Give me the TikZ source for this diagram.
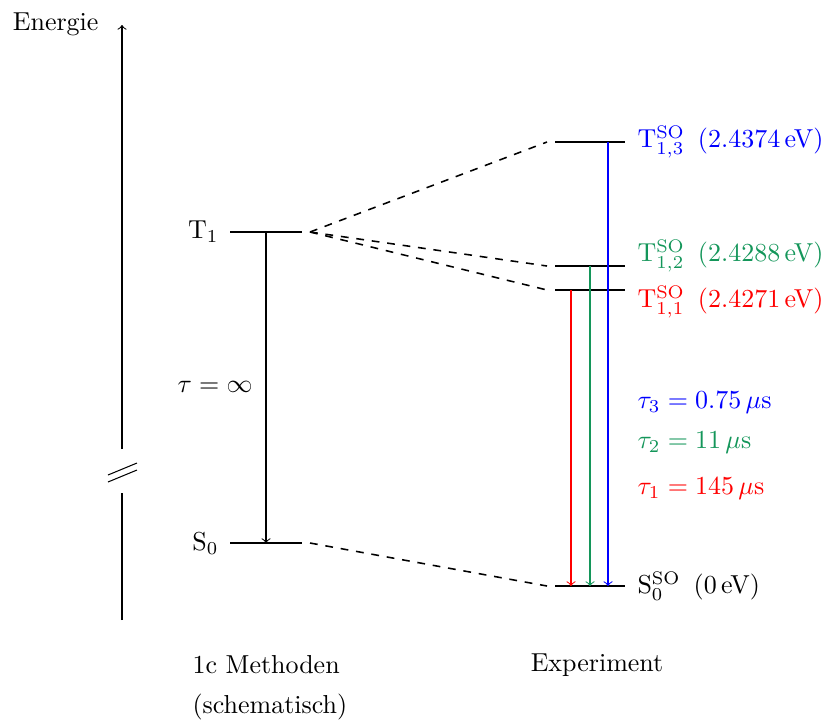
\documentclass[tikz,border=0pt]{standalone}
\usetikzlibrary{calc}
\definecolor{myred}{RGB}{255,0,0}
\definecolor{mygreen}{RGB}{20,150,90}
\definecolor{myblue}{RGB}{0,0,255}
\begin{document}
\begin{tikzpicture}[x=0.385pt,y=-0.385pt,
  level/.style={semithick},
  dashline/.style={dashed,semithick},
  lbl/.style={inner sep=0pt},
  trans/.style={->}]
\useasboundingbox (0,0) rectangle (825,720);
% axis
\coordinate (axtop) at (122,25);
\coordinate (axbrkhi) at (122,449);
\coordinate (axbrklo) at (122,493);
\coordinate (axbot) at (122,620);
\draw[->] (axbrkhi) -- (axtop);
\draw (axbot) -- (axbrklo);
\coordinate (b1a) at (108,475); \coordinate (b1b) at (137,463);
\coordinate (b2a) at (108,482); \coordinate (b2b) at (137,470);
\draw (b1a) -- (b1b);
\draw (b2a) -- (b2b);
\node[lbl,anchor=east] (energie) at (99,24.5) {Energie};
% left levels
\coordinate (T1l) at (230,232); \coordinate (T1r) at (302,232);
\coordinate (S0l) at (230,543); \coordinate (S0r) at (302,543);
\draw[level] (T1l) -- (T1r);
\draw[level] (S0l) -- (S0r);
\node[lbl,anchor=east] (T1lab) at (219,232) {T$_1$};
\node[lbl,anchor=east] (S0lab) at (219,543) {S$_0$};
\draw[trans] ($(T1l)!0.5!(T1r)$) -- ($(S0l)!0.5!(S0r)$);
\node[lbl,anchor=east] (tauinf) at (253,387) {$\tau = \infty$};
% right levels
\coordinate (T13l) at (555,142); \coordinate (T13r) at (625,142);
\coordinate (T12l) at (555,266); \coordinate (T12r) at (625,266);
\coordinate (T11l) at (555,290); \coordinate (T11r) at (625,290);
\coordinate (S0Sl) at (555,586); \coordinate (S0Sr) at (625,586);
\draw[level] (T13l) -- (T13r);
\draw[level] (T12l) -- (T12r);
\draw[level] (T11l) -- (T11r);
\draw[level] (S0Sl) -- (S0Sr);
\node[lbl,anchor=west,text=myblue] (T13lab) at (637,142) {T$^{\mathrm{SO}}_{1,3}$\ \,(2.4374\,eV)};
\node[lbl,anchor=west,text=mygreen] (T12lab) at (637,256) {T$^{\mathrm{SO}}_{1,2}$\ \,(2.4288\,eV)};
\node[lbl,anchor=west,text=myred] (T11lab) at (637,302) {T$^{\mathrm{SO}}_{1,1}$\ \,(2.4271\,eV)};
\node[lbl,anchor=west] (S0Slab) at (637,586) {S$^{\mathrm{SO}}_{0}$\ \,(0\,eV)};
% dashed correlation lines
\coordinate (dT1) at (310,232);
\coordinate (dS0) at (310,543);
\coordinate (dT13) at (547,142);
\coordinate (dT12) at (547,266);
\coordinate (dT11) at (547,290);
\coordinate (dS0S) at (547,586);
\draw[dashline] (dT1) -- (dT13);
\draw[dashline] (dT1) -- (dT12);
\draw[dashline] (dT1) -- (dT11);
\draw[dashline] (dS0) -- (dS0S);
% transitions
\coordinate (r1) at (571,290); \coordinate (r2) at (571,586);
\coordinate (g1) at (590,266); \coordinate (g2) at (590,586);
\coordinate (bl1) at (608,142); \coordinate (bl2) at (608,586);
\draw[trans,myred] (r1) -- (r2);
\draw[trans,mygreen] (g1) -- (g2);
\draw[trans,myblue] (bl1) -- (bl2);
\node[lbl,anchor=west,text=myblue] (tau3) at (637,403) {$\tau_3 = 0.75\,\mu$s};
\node[lbl,anchor=west,text=mygreen] (tau2) at (637,443) {$\tau_2 = 11\,\mu$s};
\node[lbl,anchor=west,text=myred] (tau1) at (637,489) {$\tau_1 = 145\,\mu$s};
% bottom labels
\node[lbl,anchor=west] (meth) at (192,665) {1c Methoden};
\node[lbl,anchor=west] (schem) at (192,707) {(schematisch)};
\node[lbl] (exp) at (597,665) {Experiment};
\end{tikzpicture}
\end{document}
